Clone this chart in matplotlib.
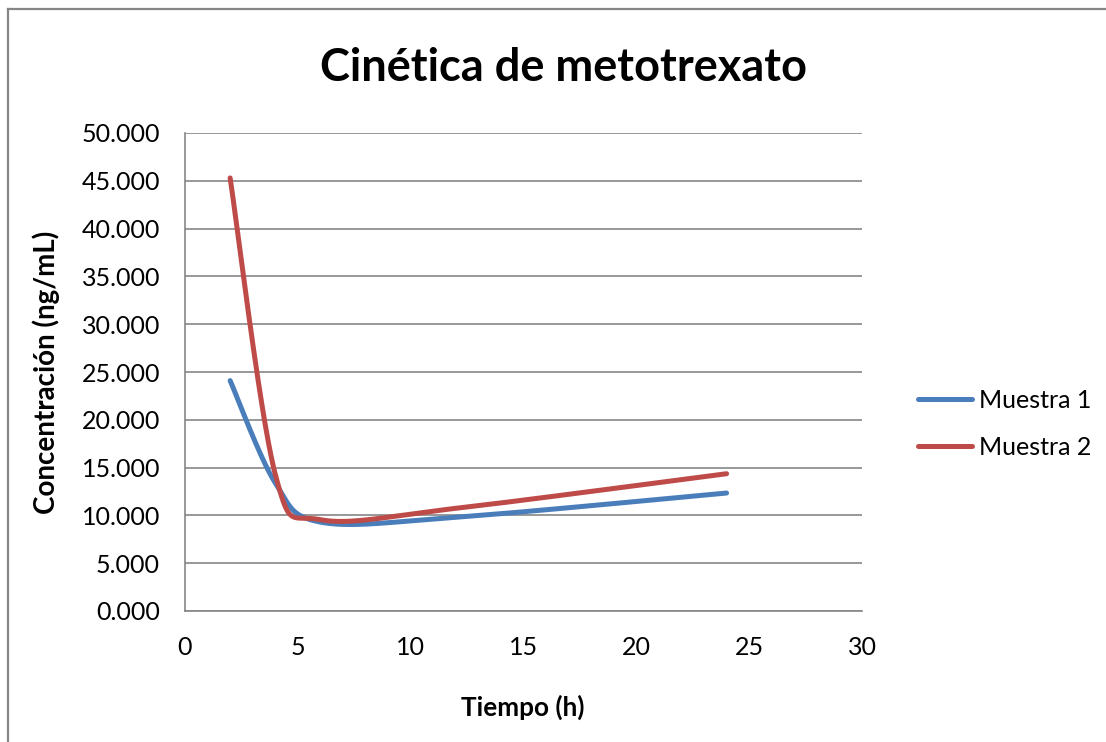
import numpy as np
import matplotlib
matplotlib.use("Agg")
import matplotlib.pyplot as plt
from matplotlib.lines import Line2D

# ---- data (concentración en miles, ng/mL) ----
tiempo = [2, 4, 6, 12, 24]
muestra1 = [24.1, 13.4, 9.3, 9.8, 12.34]
muestra2 = [45.3, 14.3, 9.55, 10.74, 14.36]
series_names = ["Muestra 1", "Muestra 2"]
colors = ["#4A7EBB", "#BE4B48"]
title = "Cinética de metotrexato"
xlabel = "Tiempo (h)"
ylabel = "Concentración (ng/mL)"
xticks = [0, 5, 10, 15, 20, 25, 30]
yticks = [0, 5, 10, 15, 20, 25, 30, 35, 40, 45, 50]

plt.rcParams['font.family'] = ['Lato', 'DejaVu Sans']

W, H = 1106, 742
left, right, top, bottom = 185, 862, 133, 611


def excel_smooth(ax, x, y, n=80):
    """Catmull-Rom style Bezier smoothing (like Excel 'smoothed line'), in display space."""
    P = ax.transData.transform(np.column_stack([x, y]).astype(float))
    m = len(P)
    out = [P[0]]
    t = np.linspace(0, 1, n)[1:, None]
    for i in range(m - 1):
        p0 = P[i - 1] if i > 0 else P[i]
        p1 = P[i]
        p2 = P[i + 1]
        p3 = P[i + 2] if i + 2 < m else P[i + 1]
        c1 = p1 + (p2 - p0) / 6.0
        c2 = p2 - (p3 - p1) / 6.0
        seg = ((1 - t) ** 3) * p1 + 3 * ((1 - t) ** 2) * t * c1 + 3 * (1 - t) * t ** 2 * c2 + t ** 3 * p2
        out.extend(seg)
    out = ax.transData.inverted().transform(np.array(out))
    return out[:, 0], out[:, 1]


fig = plt.figure(figsize=(W / 100, H / 100), dpi=100)
fig.patch.set_facecolor("white")

# outer chart border (left and top visible)
fig.add_artist(Line2D([8 / W, 8 / W], [0, 1 - 9 / H], color="#868686", lw=1.6))
fig.add_artist(Line2D([8 / W, 1], [1 - 9 / H, 1 - 9 / H], color="#868686", lw=1.6))

ax = fig.add_axes([left / W, 1 - bottom / H, (right - left) / W, (bottom - top) / H])
ax.set_xlim(0, 30)
ax.set_ylim(0, 50)
ax.set_xticks(xticks)
ax.set_yticks(yticks)
ax.set_xticklabels([str(v) for v in xticks])
ax.set_yticklabels([f"{v:.3f}" for v in yticks])
for s in ["top", "right"]:
    ax.spines[s].set_visible(False)
ax.spines["left"].set_color("#868686")
ax.spines["bottom"].set_color("#868686")
ax.spines["left"].set_linewidth(1.2)
ax.spines["bottom"].set_linewidth(1.2)
ax.tick_params(axis="both", length=0, labelsize=18, colors="#000000")
ax.tick_params(axis="y", pad=18)
ax.tick_params(axis="x", pad=18)
ax.yaxis.grid(True, color="#868686", lw=1.2)
ax.set_axisbelow(True)

for vals, name, c in zip([muestra1, muestra2], series_names, colors):
    xs, ys = excel_smooth(ax, tiempo, vals)
    ax.plot(xs, ys, color=c, lw=3.6, solid_capstyle="round", label=name)

ax.set_xlabel(xlabel, fontsize=18.8, fontweight="bold")
ax.set_ylabel(ylabel, fontsize=20, fontweight="bold")
ax.xaxis.set_label_coords((523 - left) / (right - left), (bottom - 695) / (bottom - top))
ax.yaxis.set_label_coords((60 - left) / (right - left), (bottom - 372) / (bottom - top))

fig.text(563 / W, 1 - 68 / H, title, fontsize=32.5, fontweight="bold", ha="center", va="center")

leg = ax.legend(loc="center left", bbox_to_anchor=((918 - left) / (right - left), (bottom - 424) / (bottom - top)),
                frameon=False, fontsize=18, handlelength=2.16, labelspacing=0.95, handletextpad=0.28,
                borderpad=0, borderaxespad=0)

fig.savefig("out.png", dpi=100, facecolor="white")
